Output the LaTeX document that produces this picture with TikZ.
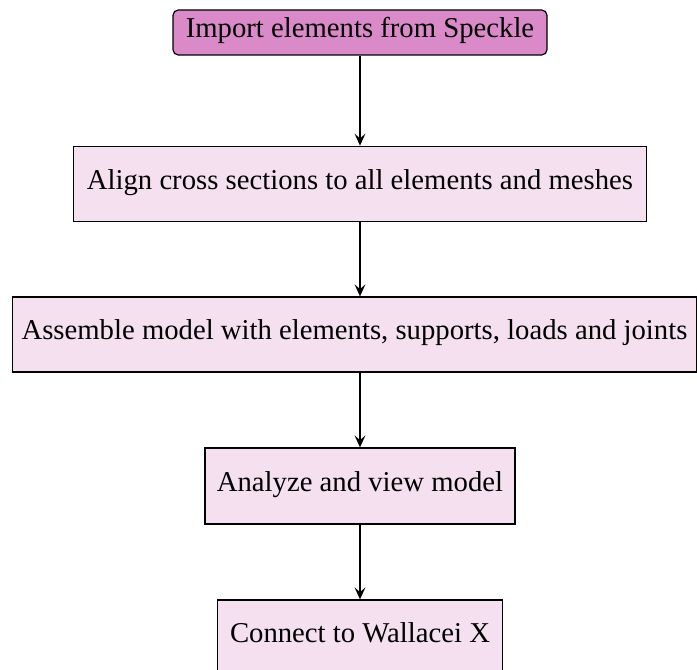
\documentclass[tikz,border=0pt]{standalone}
\usepackage{fontspec}
\setmainfont{Liberation Serif}
\usetikzlibrary{arrows.meta}
\definecolor{topfill}{RGB}{218,138,200}
\definecolor{boxfill}{RGB}{245,224,240}
\tikzset{
  flowbox/.style={draw=black, fill=boxfill, line width=0.5pt, inner sep=0pt,
    text height=0.7em, text depth=0.25em, font=\fontsize{12}{14}\selectfont},
  startbox/.style={flowbox, fill=topfill, rounded corners=2.2pt},
  flowarrow/.style={thick, -{Stealth[length=5pt,width=4.5pt,inset=2pt]}}
}
\begin{document}
\begin{tikzpicture}[x=0.418pt,y=-0.418pt]
\useasboundingbox (0,0) rectangle (697,670);
\begin{scope}
\clip (0,0) rectangle (697,670);
\node[startbox, minimum width={374*0.418pt}, minimum height={45*0.418pt}] (n1) at (360,32.5) {Import elements from Speckle};
\node[flowbox, minimum width={573.4*0.418pt}, minimum height={75.5*0.418pt}] (n2) at (360,184) {Align cross sections to all elements and meshes};
\node[flowbox, minimum width={684.4*0.418pt}, minimum height={75*0.418pt}] (n3) at (354.5,334.5) {Assemble model with elements, supports, loads and joints};
\node[flowbox, minimum width={310*0.418pt}, minimum height={76*0.418pt}] (n4) at (360,486) {Analyze and view model};
\node[flowbox, minimum width={285*0.418pt}, minimum height={75*0.418pt}] (n5) at (360,637.5) {Connect to Wallacei X};
\draw[flowarrow] (n1.south -| 360,0) -- (n2.north -| 360,0);
\draw[flowarrow] (n2.south -| 360,0) -- (n3.north -| 360,0);
\draw[flowarrow] (n3.south -| 360,0) -- (n4.north -| 360,0);
\draw[flowarrow] (n4.south -| 360,0) -- (n5.north -| 360,0);
\end{scope}
\end{tikzpicture}
\end{document}
